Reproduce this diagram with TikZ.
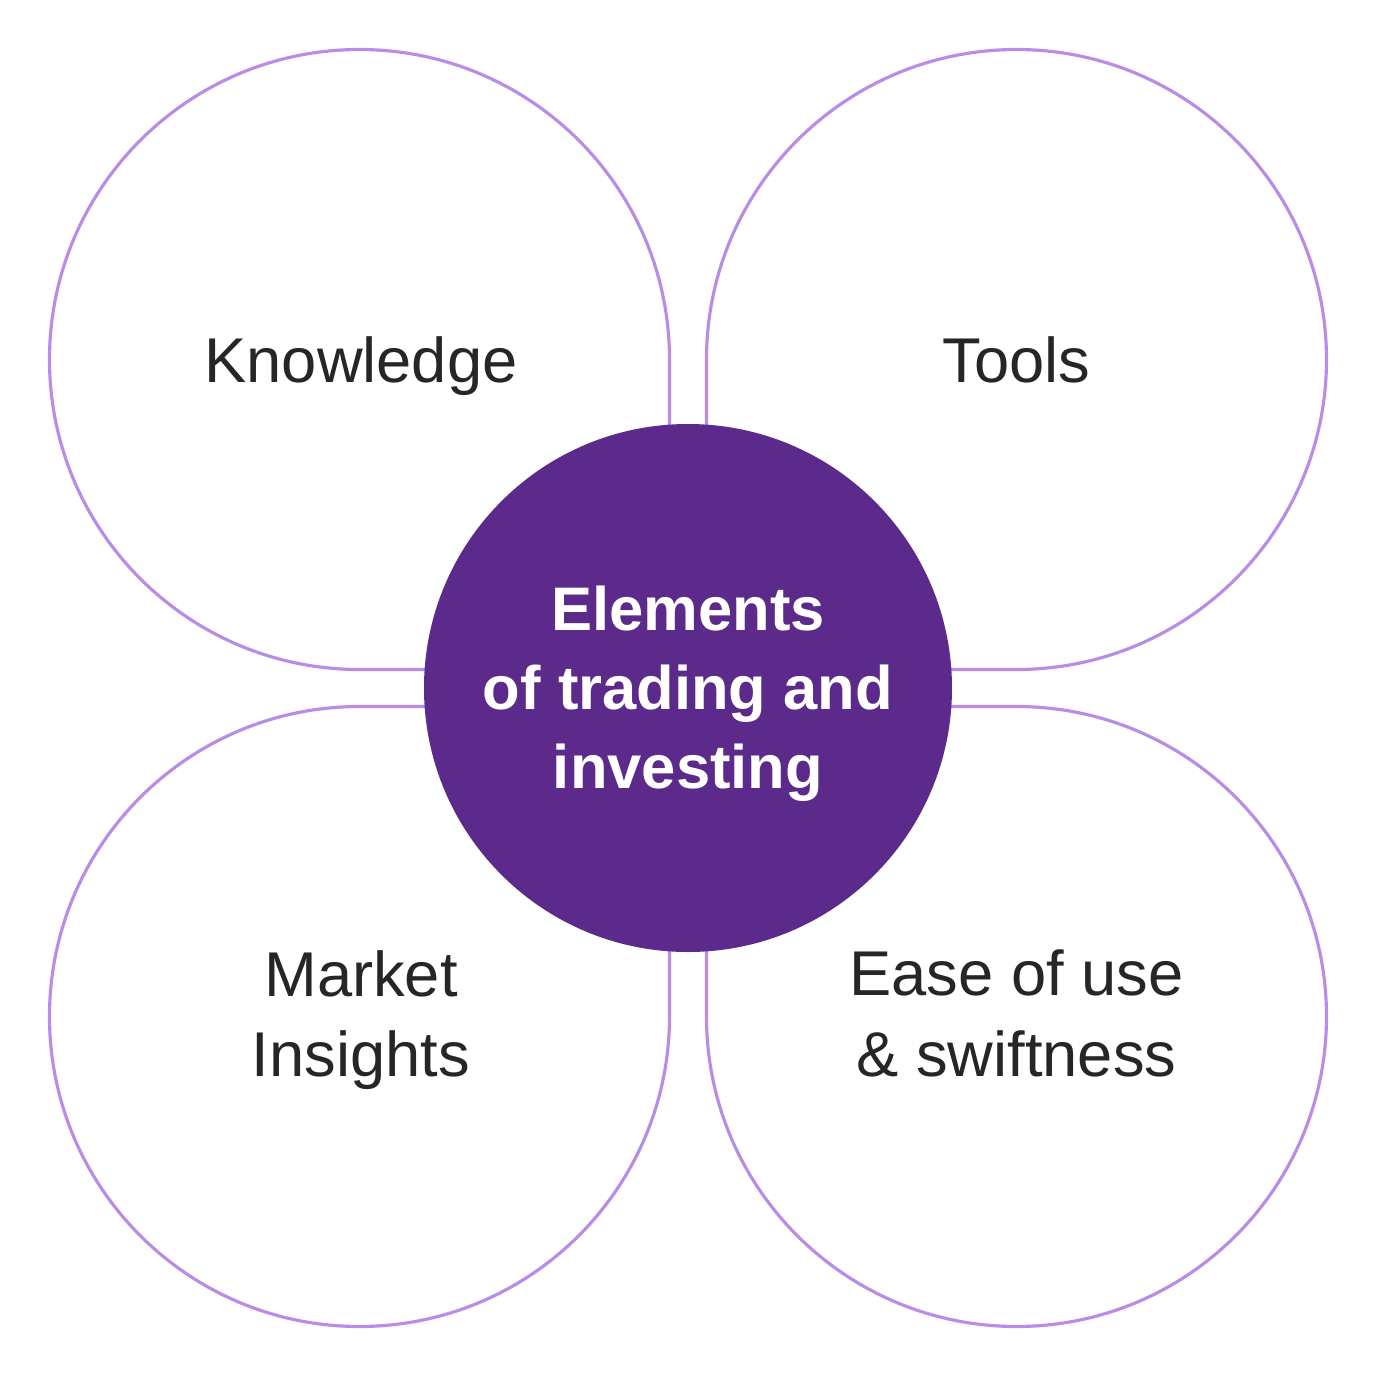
\documentclass[tikz,border=0pt]{standalone}
\usepackage{fontspec}
\setmainfont{Liberation Sans}
\usepackage{xcolor}
\usetikzlibrary{positioning, calc}

\definecolor{petalline}{HTML}{B98CE6}
\definecolor{corefill}{HTML}{5B2A8A}
\definecolor{labeltext}{HTML}{262626}

\begin{document}
\begin{tikzpicture}[
    petal/.style={draw=petalline, line width=0.9pt, fill=white},
    core/.style={circle, fill=corefill, minimum size=5.28cm, inner sep=0pt},
    coretitle/.style={anchor=base, align=center, text=white, font=\fontsize{17.5}{22.4}\selectfont\bfseries},
    label/.style={anchor=base, align=center, text=labeltext, font=\fontsize{18}{22.8}\selectfont}
]

% page
\useasboundingbox (-6.88,-6.88) rectangle (6.88,6.88);

% Four petals, square corner towards the middle
\foreach \ang in {0,90,180,270} {
    \begin{scope}[rotate=\ang]
        \draw[petal] (3.285,0.185) arc[start angle=-90, end angle=180, radius=3.10] -- (0.185,0.185) -- cycle;
    \end{scope}
}

% Petal labels (placed on the last baseline)
\node[label] (knowledge) at (-3.27, 3.06) {Knowledge};
\node[label] (tools) at (3.285, 3.06) {Tools};
\node[label] (insights) at (-3.27, -3.887) {Market\\Insights};
\node[label] (ease) at (3.285, -3.88) {Ease of use\\\& swiftness};

% Middle circle
\node[core] (core) at (0,0) {};
\node[coretitle] (coretext) at (0, -1.0) {Elements\\of trading and\\investing};

\end{tikzpicture}
\end{document}
